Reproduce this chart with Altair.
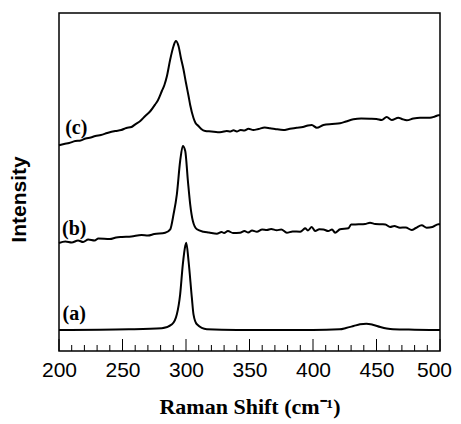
import altair as alt
import pandas as pd

# ---- data ----
wn_a = [200, 255, 281, 289, 292.8, 295.4, 297.5, 299.4, 300.2, 302, 304.6, 305.9,
        308.6, 316.4, 340, 400, 421, 426, 432, 437, 442, 447, 453, 458, 463, 480, 500]
int_a = [21, 21.7, 22.7, 26.7, 36.7, 56.7, 86.7, 105, 108.3, 90, 53.3, 36.7,
         26.7, 21.7, 21, 21, 21.7, 23, 25, 26.7, 27.3, 26.3, 24, 22.5, 21.7, 21.3, 21]

wn_b = [200, 205, 210, 215, 219, 223, 228, 231, 240, 245, 249.6, 257, 265, 270, 275,
        283.6, 287.6, 290.2, 292.8, 295.4, 297.5, 299.4, 301.5, 303.3, 305.4, 308.6,
        313.8, 318, 324.3, 328, 330, 333, 337, 342.6, 346, 349, 352, 355.8, 360, 363.7,
        367, 371.5, 375, 379.4, 384, 389.9, 392, 393.8, 396, 399, 401.7, 405, 408.2,
        412, 415, 417.4, 421.3, 427.9, 430, 436, 441, 444.9, 449, 454.1, 457, 460.7,
        464, 468.5, 473, 477.7, 481, 485.6, 489.5, 494, 498.7, 500]
int_b = [108, 109.5, 108.5, 110.5, 109, 111.5, 110.5, 112.5, 112, 113.5, 114, 114.5,
         116, 115.5, 117, 118.3, 121.7, 136.7, 156.7, 190, 205, 200, 170, 146.7, 130,
         121.7, 119.3, 118.5, 117.3, 119, 118, 120, 118, 118.3, 120, 118.5, 120.5, 119.3,
         121.5, 121, 122, 120.7, 121.5, 118.3, 119.5, 119.3, 121, 122.7, 120.5, 124, 120,
         121.7, 121.5, 120, 121.5, 118.3, 121.7, 122.7, 126.5, 126.7, 127, 128.3, 127,
         126.7, 126.5, 124, 125, 123.3, 123.5, 121, 123, 125.7, 123.3, 124, 126.7, 126.7]

wn_c = [200, 204, 208, 212.8, 217, 221, 225, 228.6, 233, 238, 244.3, 249, 253, 257, 260,
        264, 267.9, 272, 275.8, 278, 281, 283, 285, 287.6, 290.2, 292, 294.1, 296, 298,
        300, 302, 303.3, 305.9, 307.5, 309.8, 312, 315.1, 320, 325, 328.2, 332, 335,
        337.4, 340, 343, 346, 349.2, 353, 357, 362, 366.2, 370, 376.7, 381, 387.2, 392,
        396, 399, 403, 408.2, 415, 421.3, 426, 431.8, 438, 444.9, 450, 454.1, 458, 462,
        467.2, 470, 473.8, 479, 484.3, 492.1, 496, 498.7, 500]
int_c = [205.7, 207, 208, 210, 210.5, 212.5, 213.5, 215, 216, 218, 220, 221, 223, 224,
         226.7, 230, 235, 240, 246.7, 251, 260, 266, 275, 291.7, 305, 310, 305, 293,
         281.7, 268, 255, 246, 233, 228, 225, 222, 220, 219.5, 218.8, 219, 220, 219.5,
         220.7, 219.5, 221, 220.5, 222.3, 221, 222, 223.5, 222.7, 222, 221, 222, 223.3,
         224, 225.5, 226, 223.3, 226, 227, 227.7, 229.5, 231.7, 232.5, 232.3, 232, 231,
         234, 231, 233.3, 232, 230.7, 232.5, 233.3, 233.3, 234.5, 235.7, 235.7]

label_text = ["(a)", "(b)", "(c)"]
label_wn = [212, 212, 213.6]
label_int = [37, 122, 223]

tick_major = [200, 250, 300, 350, 400, 450, 500]
tick_minor = [210, 220, 230, 240, 260, 270, 280, 290, 310, 320, 330, 340,
              360, 370, 380, 390, 410, 420, 430, 440, 460, 470, 480, 490]

# ---- build tables ----
rows = []
for name, wn, it in [("a", wn_a, int_a), ("b", wn_b, int_b), ("c", wn_c, int_c)]:
    rows += [{"series": name, "wn": w, "I": v} for w, v in zip(wn, it)]
df = pd.DataFrame(rows)
lab_df = pd.DataFrame({"txt": label_text, "wn": label_wn, "I": label_int})
major_df = pd.DataFrame({"wn": tick_major})
minor_df = pd.DataFrame({"wn": tick_minor})

W, H = 381, 338
xs = alt.Scale(domain=[200, 500], nice=False, zero=False)
ys = alt.Scale(domain=[0, 338], nice=False, zero=False)

lines = alt.Chart(df).mark_line(color="black", strokeWidth=2, interpolate="monotone").encode(
    x=alt.X("wn:Q", scale=xs, axis=alt.Axis(
        title="Raman Shift (cm⁻¹)", values=tick_major, format="d", ticks=False,
        domain=False, grid=False, labelFlush=False, labelOverlap=False,
        labelOffset={"expr": "datum.value == 500 ? -6 : 0"},
        labelFont="Liberation Sans", labelFontSize=21,
        labelColor="black", labelPadding=8, titleFont="Liberation Serif",
        titleFontSize=22, titleFontWeight="bold", titleColor="black", titlePadding=16)),
    y=alt.Y("I:Q", scale=ys, axis=alt.Axis(
        title="Intensity", labels=False, ticks=False, domain=False, grid=False,
        titleFont="Liberation Sans", titleFontSize=21, titleFontWeight="bold",
        titleColor="black", titlePadding=30, titleY=186)),
    detail="series:N",
)

labels = alt.Chart(lab_df).mark_text(
    font="Liberation Serif", fontSize=20, fontWeight="bold", color="black"
).encode(x=alt.X("wn:Q", scale=xs), y=alt.Y("I:Q", scale=ys), text="txt:N")

major = alt.Chart(major_df).mark_rule(color="black", strokeWidth=1).encode(
    x=alt.X("wn:Q", scale=xs), y=alt.value(H), y2=alt.value(H - 12))
minor = alt.Chart(minor_df).mark_rule(color="black", strokeWidth=1).encode(
    x=alt.X("wn:Q", scale=xs), y=alt.value(H), y2=alt.value(H - 6))

chart = alt.layer(lines, labels, major, minor).properties(
    width=W, height=H, padding={"left": 0, "top": 5, "right": 0, "bottom": 5},
    background="white",
).configure_view(stroke="black", strokeWidth=1.5)

chart.save("out.html", embed_options={"renderer": "svg", "actions": False})
